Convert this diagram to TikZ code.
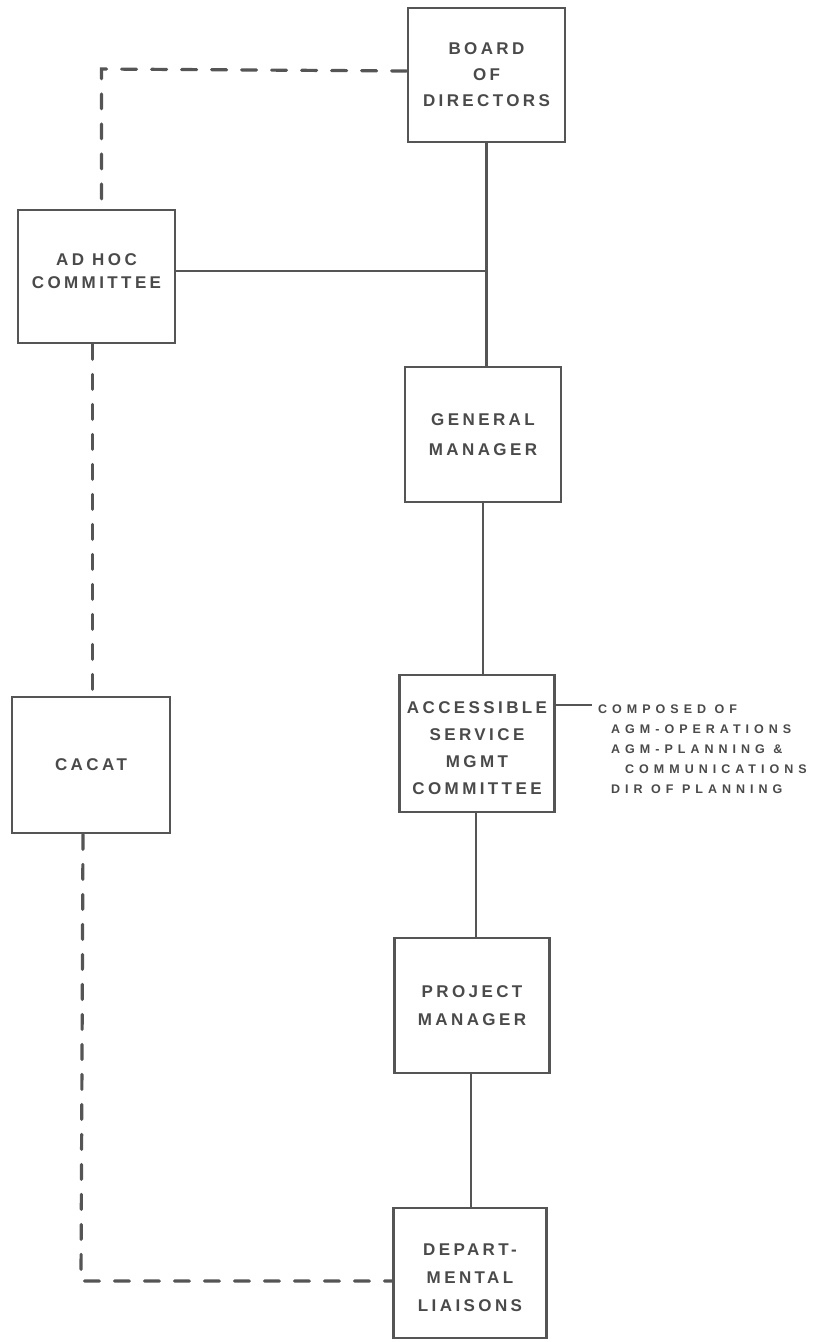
\documentclass[tikz,border=0pt]{standalone}
\usepackage{fontspec}
\setmainfont{Liberation Sans}
\newfontfamily\boxfont{Liberation Sans}[LetterSpace=20]
\newfontfamily\sidefont{Liberation Sans}[LetterSpace=40]
\definecolor{ink}{HTML}{555555}
\definecolor{txt}{HTML}{4A4A4A}
\begin{document}
\begin{tikzpicture}[x=1pt,y=-1pt,
  orgbox/.style={draw=ink, line width=2.8pt, inner sep=0pt, align=center,
    text=txt, font=\boxfont\bfseries\fontsize{17}{26}\selectfont},
  solidline/.style={draw=ink, line width=2.8pt},
  dashline/.style={draw=ink, line width=3.2pt, dash pattern=on 15pt off 15pt, line cap=round},
  sidetext/.style={inner sep=0pt, align=left, text=txt,
    font=\sidefont\bfseries\fontsize{12.5}{20}\selectfont}]
\useasboundingbox (0,0) rectangle (833,1342);
\fill[white] (0,0) rectangle (833,1342);

\node[orgbox, minimum width=157pt, minimum height=134pt] (board) at (486.5,75) {BOARD\\OF\\DIRECTORS};
\node[orgbox, minimum width=157pt, minimum height=133pt, font=\boxfont\bfseries\fontsize{17}{23}\selectfont] (adhoc) at (96.5,276.5) {AD HOC\\COMMITTEE\\[-12pt]\mbox{}};
\node[orgbox, minimum width=156pt, minimum height=135pt, font=\boxfont\bfseries\fontsize{17}{30}\selectfont] (gm) at (483,434.5) {GENERAL\\MANAGER};
\node[orgbox, minimum width=155pt, minimum height=137pt, font=\boxfont\bfseries\fontsize{17}{27}\selectfont] (asmc) at (477,743.5) {\mbox{}\\[-5pt]ACCESSIBLE\\SERVICE\\MGMT\\COMMITTEE};
\node[orgbox, minimum width=158pt, minimum height=136pt] (cacat) at (91,765) {CACAT};
\node[orgbox, minimum width=155pt, minimum height=135pt, font=\boxfont\bfseries\fontsize{17}{28}\selectfont] (pm) at (472,1005.5) {PROJECT\\MANAGER};
\node[orgbox, minimum width=153pt, minimum height=130pt, font=\boxfont\bfseries\fontsize{17}{28}\selectfont] (dl) at (470,1273) {\\[-6pt]DEPART-\\MENTAL\\LIAISONS};

\node[sidetext, anchor=west] (comp) at (598,749) {COMPOSED OF\\
\hspace*{13pt}AGM-OPERATIONS\\
\hspace*{13pt}AGM-PLANNING \&\\
\hspace*{27pt}COMMUNICATIONS\\
\hspace*{13pt}DIR OF PLANNING};

% solid connectors
\coordinate (j) at (486.5,271);
\coordinate (ct) at (592,705);
\draw[solidline] (board.south) -- (board.south |- gm.north);
\draw[solidline] (adhoc.east |- j) -- (j);
\draw[solidline] (gm.south) -- (gm.south |- asmc.north);
\draw[solidline] ([xshift=-1pt]asmc.south) -- ([xshift=-1pt]asmc.south |- pm.north);
\draw[solidline] ([xshift=-1pt]pm.south) -- ([xshift=-1pt]pm.south |- dl.north);
\draw[solidline] (asmc.east |- ct) -- (ct);

% dashed connectors
\coordinate (c1) at (101.5,69);
\coordinate (c2) at (81,1281);
\draw[dashline] (board.west |- 0,71) -- (c1) -- (c1 |- adhoc.north);
\draw[dashline] ([xshift=-4pt]adhoc.south) -- ([xshift=-4pt]adhoc.south |- cacat.north);
\draw[dashline] ([xshift=-8pt]cacat.south) -- (c2) -- (c2 -| dl.west);
\end{tikzpicture}
\end{document}
